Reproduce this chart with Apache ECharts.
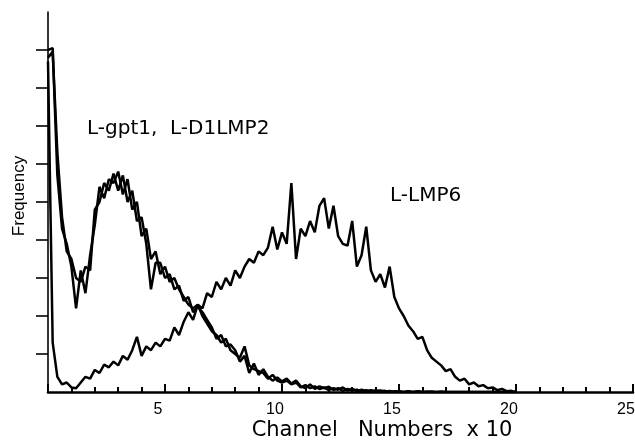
<!DOCTYPE html>
<html>
<head>
<meta charset="utf-8">
<script src="https://cdn.jsdelivr.net/npm/echarts@6/dist/echarts.min.js"></script>
<style>
html,body{margin:0;padding:0;background:#fff;}
#chart{width:635px;height:448px;}
</style>
</head>
<body>
<div id="chart"></div>
<script>
// Channel numbers (x 10)
var channels = [
 0.0,0.2,0.4,0.6,0.8,1.0,1.2,1.4,1.6,1.8,
 2.0,2.2,2.4,2.6,2.8,3.0,3.2,3.4,3.6,3.8,
 4.0,4.2,4.4,4.6,4.8,5.0,5.2,5.4,5.6,5.8,
 6.0,6.2,6.4,6.6,6.8,7.0,7.2,7.4,7.6,7.8,
 8.0,8.2,8.4,8.6,8.8,9.0,9.2,9.4,9.6,9.8,
 10.0,10.2,10.4,10.6,10.8,11.0,11.2,11.4,11.6,11.8,
 12.0,12.2,12.4,12.6,12.8,13.0,13.2,13.4,13.6,13.8,
 14.0,14.2,14.4,14.6,14.8,15.0,15.2,15.4,15.6,15.8,
 16.0,16.2,16.4,16.6,16.8,17.0,17.2,17.4,17.6,17.8,
 18.0,18.2,18.4,18.6,18.8,19.0,19.2,19.4,19.6,19.8,
 20.0
];
// L-gpt1
var gpt1 = [
 9.0,9.05,5.7,4.3,3.9,3.3,2.2,3.2,2.6,3.6,
 4.4,5.4,5.1,5.6,5.5,5.8,5.2,5.6,4.8,5.0,
 4.1,4.3,3.5,3.7,3.1,3.3,2.9,3.0,2.7,2.5,
 2.3,2.2,2.3,2.0,1.8,1.6,1.5,1.3,1.4,1.1,
 1.0,0.9,1.2,0.7,0.6,0.55,0.5,0.35,0.45,0.3,
 0.25,0.3,0.2,0.25,0.12,0.18,0.1,0.15,0.08,0.12,
 0.05,0.1,0.06,0.12,0.04,0.08,0.03,0.06,0.02,0.05,
 0.02,0.04,0.01,0.03,0,0.02,0,0.01,0,0.02,
 0,0.01,0,0,0.01,0,0,0,0,0,
 0,0,0,0,0,0,0,0,0,0,
 0
];
// L-D1LMP2
var d1lmp2 = [
 8.8,8.95,6.3,4.6,3.7,3.5,3.0,2.9,3.3,3.2,
 4.8,5.0,5.5,5.3,5.75,5.3,5.7,5.0,5.3,4.5,
 4.6,3.9,2.7,3.4,3.4,3.0,3.1,2.7,2.8,2.4,
 2.5,2.1,2.25,2.1,1.9,1.7,1.4,1.5,1.2,1.25,
 1.1,0.8,0.95,0.5,0.75,0.45,0.6,0.4,0.3,0.38,
 0.28,0.35,0.22,0.3,0.15,0.1,0.2,0.08,0.15,0.1,
 0.14,0.05,0.1,0.03,0.08,0.04,0.06,0.02,0.05,0.01,
 0.04,0.02,0.03,0,0.02,0.01,0,0.02,0,0.01,
 0,0,0.01,0,0,0,0,0,0,0,
 0,0,0,0,0,0,0,0,0,0,
 0
];
// L-LMP6
var lmp6 = [
 8.7,1.3,0.4,0.2,0.25,0.12,0.1,0.25,0.4,0.35,
 0.58,0.5,0.72,0.65,0.8,0.7,0.95,0.85,1.1,1.45,
 0.95,1.2,1.1,1.3,1.2,1.4,1.35,1.7,1.5,1.85,
 2.1,1.9,2.3,2.2,2.6,2.5,2.9,2.7,3.0,2.8,
 3.2,3.0,3.3,3.5,3.4,3.7,3.6,3.8,4.35,3.75,
 4.2,3.9,5.5,3.5,4.3,4.1,4.5,4.2,4.9,5.1,
 4.3,4.9,4.1,3.9,3.85,4.5,3.3,3.6,4.35,3.2,
 2.9,3.1,2.75,3.3,2.5,2.2,2.0,1.75,1.6,1.4,
 1.45,1.1,0.9,0.8,0.7,0.55,0.6,0.4,0.3,0.35,
 0.2,0.25,0.15,0.18,0.1,0.12,0.05,0.08,0.02,0.03,
 0
];
var xTickValues = [5,10,15,20,25];
var xTickLabels = ['5','10','15','20','25'];
var yTickValues = [1,2,3,4,5,6,7,8,9];
var seriesNames = ['L-gpt1','L-D1LMP2','L-LMP6'];

function pairs(ys){ return channels.map(function(x,i){ return [x, ys[i]]; }); }

var chart = echarts.init(document.getElementById('chart'), null, {renderer:'canvas'});
var lineStyle = {color:'#000', width:2.5};
chart.setOption({
  animation:false,
  backgroundColor:'#fff',
  grid:{left:48, right:2, top:12, bottom:56, containLabel:false, outerBoundsMode:'none'},
  xAxis:{
    type:'value', min:0, max:25, interval:5,
    axisLine:{show:true, onZero:false, lineStyle:{color:'#000', width:2.6}},
    axisTick:{show:true, inside:true, length:8, lineStyle:{color:'#000', width:2}},
    minorTick:{show:true, splitNumber:5, length:5, lineStyle:{color:'#000', width:2}},
    splitLine:{show:false},
    axisLabel:{
      show:true, margin:10, color:'#000', fontSize:16, fontFamily:'Liberation Sans',
      padding:[0,14,0,0],
      formatter:function(v){ var i = xTickValues.indexOf(v); return i>=0 ? xTickLabels[i] : ''; }
    }
  },
  yAxis:{
    type:'value', min:0, max:10, interval:1,
    axisLine:{show:true, lineStyle:{color:'#000', width:1.6}},
    axisTick:{show:true, inside:false, length:12, customValues:yTickValues, lineStyle:{color:'#000', width:1.6}},
    axisLabel:{show:false},
    splitLine:{show:false}
  },
  series:[
    {name:seriesNames[0], type:'line', data:pairs(gpt1), showSymbol:false, symbol:'none', lineStyle:lineStyle, z:3},
    {name:seriesNames[1], type:'line', data:pairs(d1lmp2), showSymbol:false, symbol:'none', lineStyle:lineStyle, z:3},
    {name:seriesNames[2], type:'line', data:pairs(lmp6), showSymbol:false, symbol:'none', lineStyle:lineStyle, z:3}
  ],
  graphic:[
    {type:'text', x:382, y:431, style:{text:'Channel   Numbers  x 10', font:'21px "DejaVu Sans"', fill:'#000', textAlign:'center', textVerticalAlign:'middle'}},
    {type:'text', x:19, y:196, rotation:Math.PI/2, style:{text:'Frequency', font:'17px "Liberation Sans"', fill:'#000', textAlign:'center', textVerticalAlign:'middle'}},
    {type:'text', x:87, y:129, style:{text:seriesNames[0]+',  '+seriesNames[1], font:'20px "DejaVu Sans"', fill:'#000', textAlign:'left', textVerticalAlign:'middle'}},
    {type:'text', x:390, y:196, style:{text:seriesNames[2], font:'20px "DejaVu Sans"', fill:'#000', textAlign:'left', textVerticalAlign:'middle'}}
  ]
});
</script>
</body>
</html>
